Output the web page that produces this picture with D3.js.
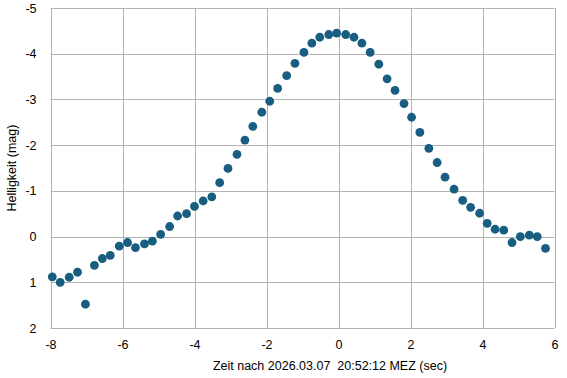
<!DOCTYPE html>
<html>
<head>
<meta charset="utf-8">
<script src="https://cdn.jsdelivr.net/npm/d3@7"></script>
<style>
    body { margin: 0; background: #fff; }
    text { font-family: "Liberation Sans", Arial, sans-serif; }
</style>
</head>
<body>
<div class="chart"></div>
<script>
const width = 567;
const height = 378;
const margin = { top: 8, right: 13, bottom: 50, left: 51 };

// Zeit (sec) relativ zu 20:52:12 MEZ
const times = [
    -7.95, -7.73, -7.48, -7.25, -7.03, -6.78, -6.56, -6.34, -6.09, -5.86,
    -5.64, -5.39, -5.17, -4.94, -4.69, -4.47, -4.22, -4.00, -3.76, -3.52,
    -3.30, -3.07, -2.82, -2.60, -2.38, -2.13, -1.91, -1.69, -1.44, -1.21,
    -0.96, -0.74, -0.52, -0.27, -0.05, 0.20, 0.43, 0.65, 0.88, 1.12,
    1.35, 1.57, 1.82, 2.03, 2.26, 2.51, 2.74, 2.96, 3.21, 3.45,
    3.67, 3.92, 4.13, 4.35, 4.59, 4.82, 5.05, 5.30, 5.52, 5.75
];
// Helligkeit (mag)
const mags = [
    0.88, 1.00, 0.89, 0.78, 1.48, 0.63, 0.48, 0.41, 0.21, 0.13,
    0.24, 0.16, 0.10, -0.05, -0.22, -0.45, -0.50, -0.66, -0.78, -0.87,
    -1.18, -1.49, -1.80, -2.11, -2.41, -2.72, -2.96, -3.24, -3.52, -3.79,
    -4.03, -4.23, -4.36, -4.42, -4.45, -4.42, -4.36, -4.23, -4.03, -3.77,
    -3.45, -3.20, -2.91, -2.61, -2.28, -1.93, -1.62, -1.30, -1.04, -0.79,
    -0.64, -0.51, -0.29, -0.16, -0.14, 0.13, 0.00, -0.03, 0.00, 0.26
];
const xTicks = [-8, -6, -4, -2, 0, 2, 4, 6];
const yTicks = [-5, -4, -3, -2, -1, 0, 1, 2];

const data = times.map((t, i) => ({ t: t, mag: mags[i] }));

let svg = d3.select(".chart")
    .append("svg")
    .attr("width", width)
    .attr("height", height);

let xScale = d3.scaleLinear()
    .domain([-8, 6])
    .range([margin.left - 0.5, width - margin.right + 0.5]);
let yScale = d3.scaleLinear()
    .domain([-5, 2])
    .range([margin.top, height - margin.bottom]);

// Gitter
svg.append("g")
    .selectAll("line")
    .data(xTicks)
    .enter()
    .append("line")
    .attr("x1", (d) => Math.round(xScale(d)) + 0.5)
    .attr("x2", (d) => Math.round(xScale(d)) + 0.5)
    .attr("y1", yScale(-5))
    .attr("y2", yScale(2))
    .attr("stroke", "#b3b3b3")
    .attr("stroke-width", 1);
svg.append("g")
    .selectAll("line")
    .data(yTicks)
    .enter()
    .append("line")
    .attr("x1", xScale(-8))
    .attr("x2", xScale(6))
    .attr("y1", (d) => Math.round(yScale(d)) + 0.5)
    .attr("y2", (d) => Math.round(yScale(d)) + 0.5)
    .attr("stroke", "#b3b3b3")
    .attr("stroke-width", 1);

// Achsenbeschriftung (einfacher Bindestrich statt Minuszeichen)
const fmt = (d) => String(d);

let xAxis = d3.axisBottom(xScale).tickValues(xTicks).tickFormat(fmt).tickSize(0).tickPadding(12);
svg.append("g")
    .attr("class", "xAxis")
    .attr("transform", "translate(0," + yScale(2) + ")")
    .call(xAxis)
    .call((g) => g.select(".domain").remove())
    .selectAll("text")
    .attr("font-size", 12.5)
    .attr("fill", "#000");

let yAxis = d3.axisLeft(yScale).tickValues(yTicks).tickFormat(fmt).tickSize(0).tickPadding(14);
svg.append("g")
    .attr("class", "yAxis")
    .attr("transform", "translate(" + xScale(-8) + ",0)")
    .call(yAxis)
    .call((g) => g.select(".domain").remove())
    .selectAll("text")
    .attr("font-size", 12.5)
    .attr("fill", "#000");

// Punkte
svg.append("g")
    .selectAll("circle")
    .data(data)
    .enter()
    .append("circle")
    .attr("cx", (d) => xScale(d.t))
    .attr("cy", (d) => yScale(d.mag))
    .attr("r", 4.4)
    .attr("fill", "#175e80");

svg.append("text")
    .text("Zeit nach 2026.03.07\u00a0\u00a020:52:12 MEZ (sec)")
    .attr("text-anchor", "middle")
    .attr("x", 330)
    .attr("y", 370)
    .attr("font-size", 12.5)
    .attr("fill", "#000");

svg.append("text")
    .text("Helligkeit (mag)")
    .attr("text-anchor", "middle")
    .attr("transform", "translate(16," + (margin.top + (height - margin.bottom - margin.top) / 2) + ") rotate(-90)")
    .attr("font-size", 12.5)
    .attr("fill", "#000");
</script>
</body>
</html>
